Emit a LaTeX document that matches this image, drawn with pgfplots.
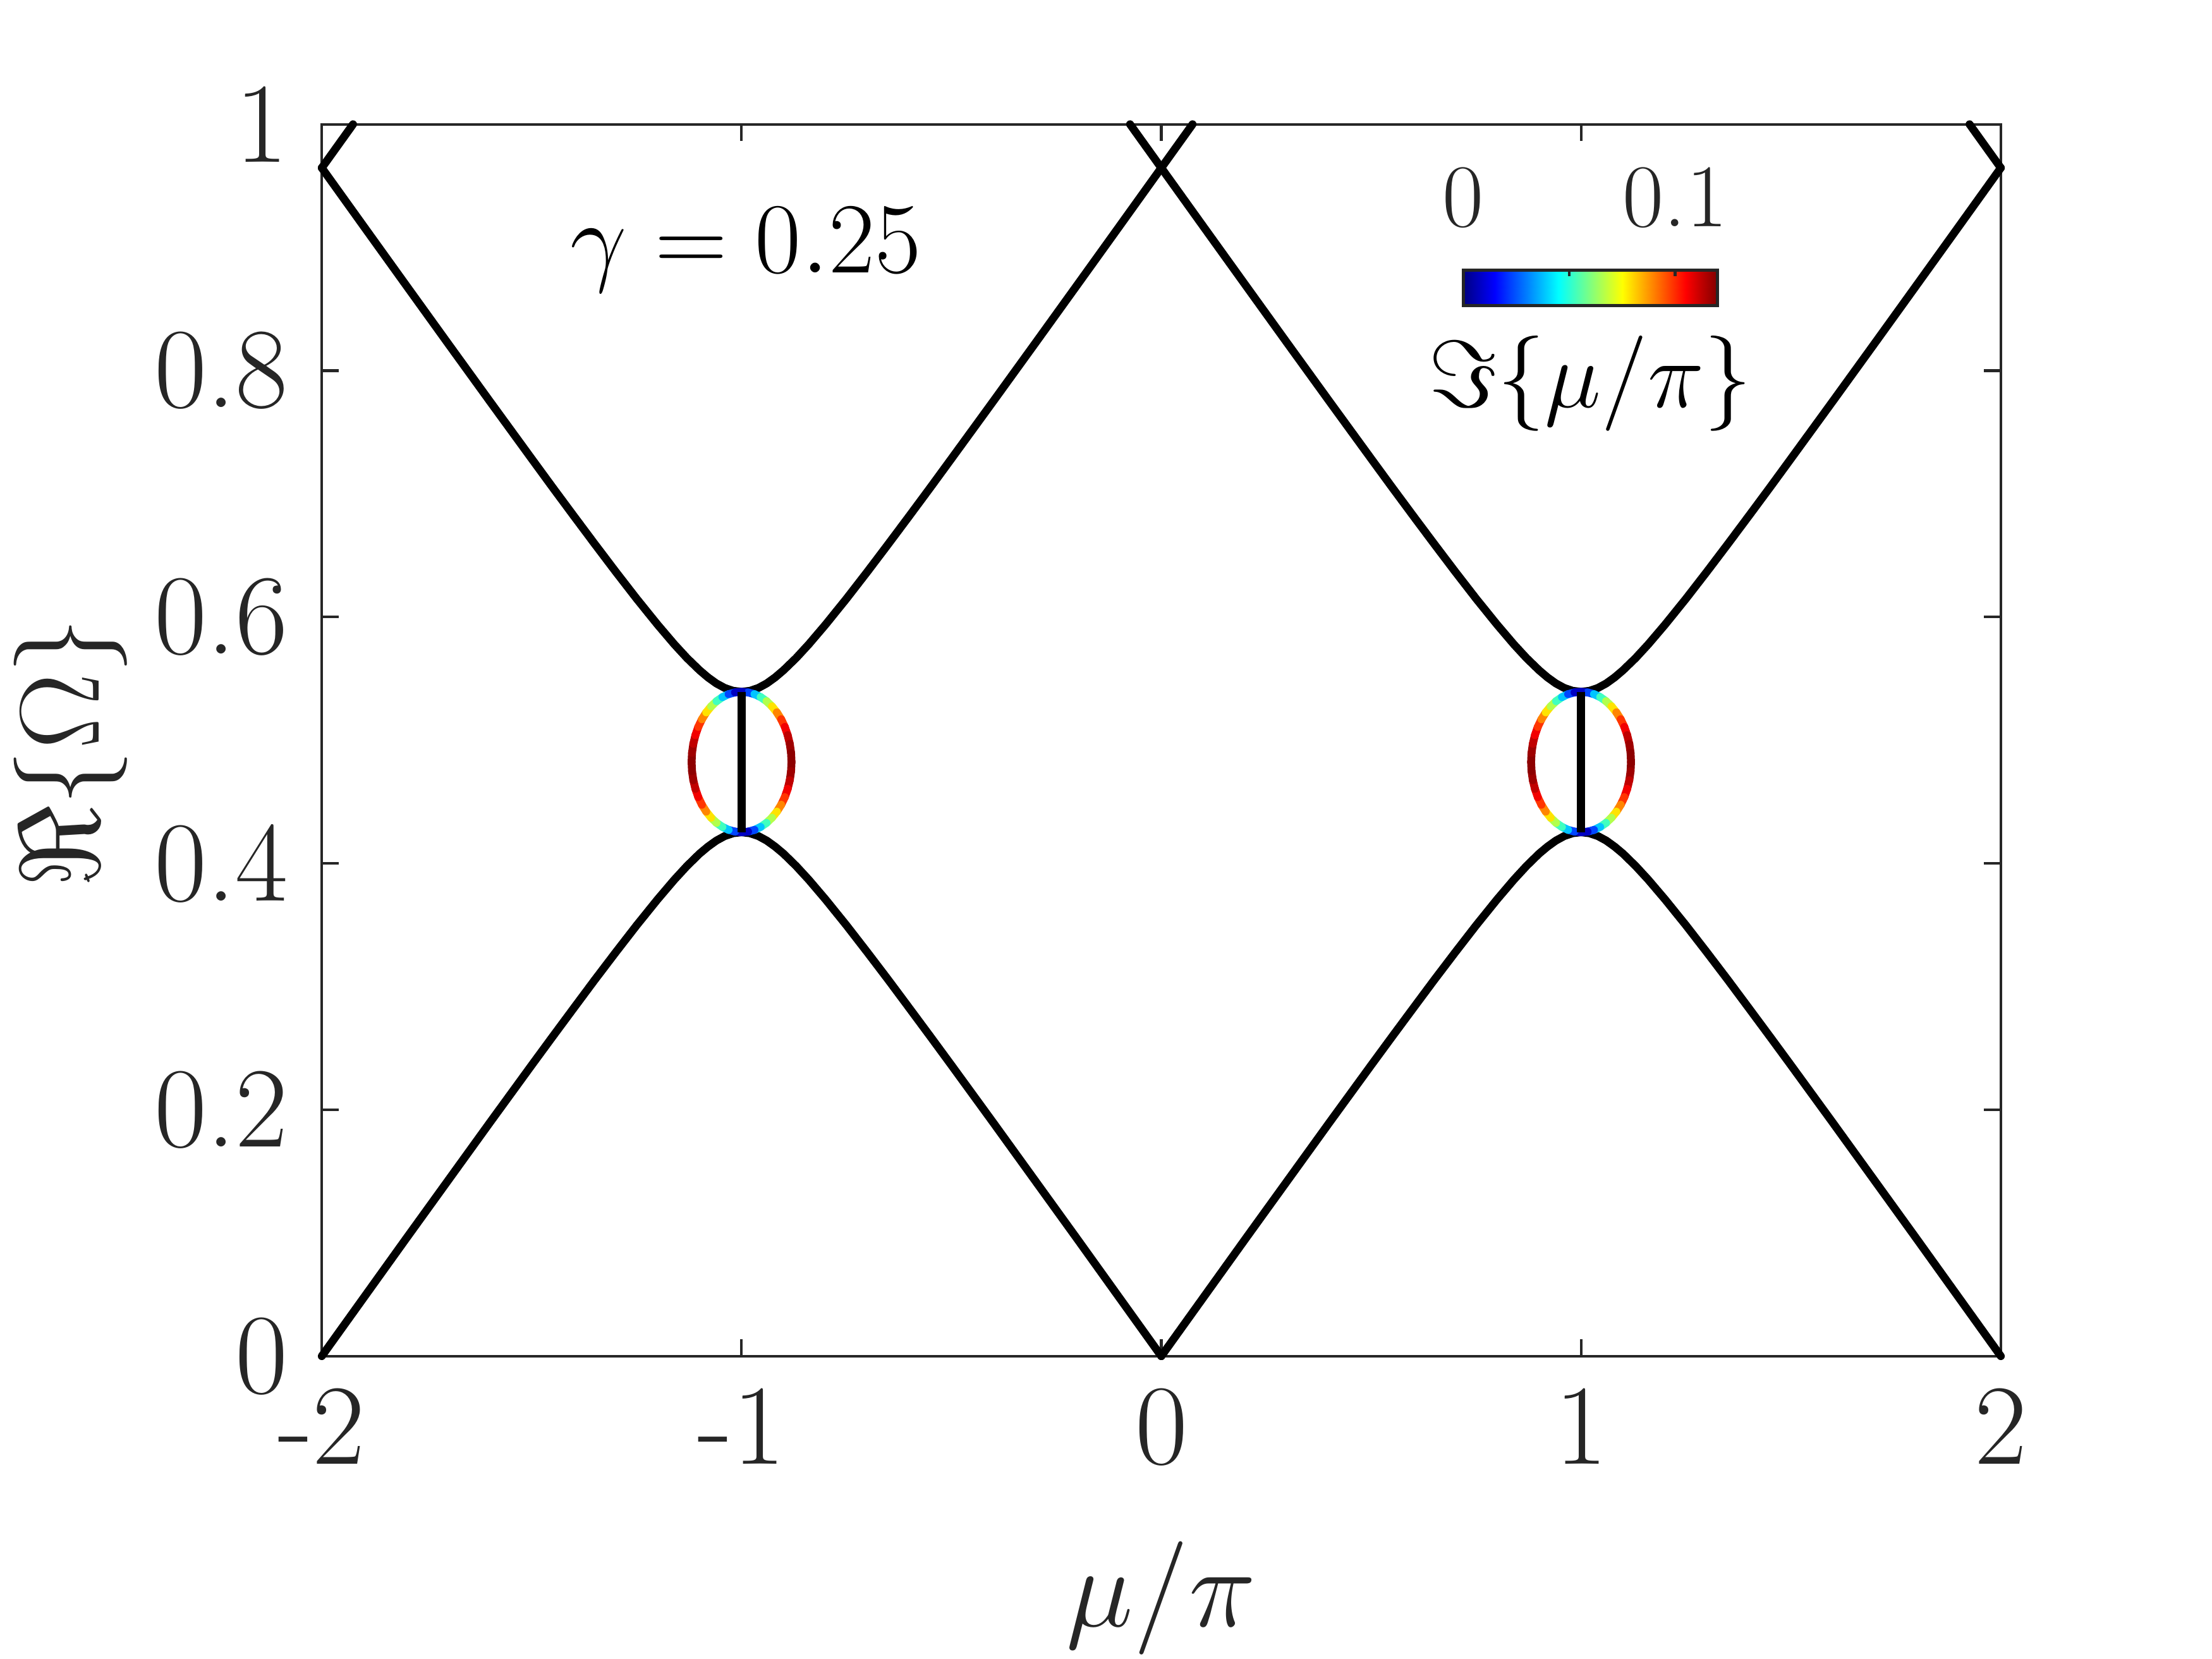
\RequirePackage{fix-cm}
\documentclass[border=0pt]{standalone}
\usepackage{pgfplots}
\pgfplotsset{compat=1.18}
\definecolor{axgray}{HTML}{262626}
\pgfplotsset{colormap={matlabjet}{rgb255(0cm)=(0,0,128) rgb255(1cm)=(0,0,255) rgb255(3cm)=(0,255,255) rgb255(5cm)=(255,255,0) rgb255(7cm)=(255,0,0) rgb255(8cm)=(128,0,0)}}

\begin{document}
\begin{tikzpicture}
\useasboundingbox (-61.1pt,-57.5pt) rectangle (358.9pt,257.5pt);
\begin{axis}[
  at={(0pt,0pt)}, anchor=south west,
  width=318.8pt, height=233.9pt, scale only axis,
  xmin=-2, xmax=2, ymin=0, ymax=1,
  clip=false,
  xtick={-2,-1,0,1,2}, xticklabels={-2,-1,0,1,2},
  ytick={0,0.2,0.4,0.6,0.8,1}, yticklabels={0,0.2,0.4,0.6,0.8,1},
  tick align=inside, tick pos=both, major tick length=3.2pt,
  axis line style={draw=axgray, line width=0.5pt},
  tick style={draw=axgray, line width=0.5pt},
  tick label style={font=\fontsize{21.7}{25}\selectfont, text=axgray},
  xticklabel shift=2.6pt,
  yticklabel shift=2.9pt,
  label style={font=\fontsize{21.5}{25}\selectfont, text=axgray},
  xlabel={$\mu/\pi$}, ylabel={$\Re\{\Omega\}$},
  xlabel style={at={(axis description cs:0.5,-0.1963)}, anchor=center},
  ylabel style={at={(axis description cs:-0.1496,0.49)}, anchor=center, inner sep=0pt},
  colormap name=matlabjet,
  point meta min=0, point meta max=0.12,
]
% lower band, gap at -1
\addplot[black, line width=1.5pt, line cap=round, line join=round] table {
x y
-2.0000 0.0000
-1.9000 0.0475
-1.8000 0.0950
-1.7000 0.1422
-1.6000 0.1894
-1.5000 0.2362
-1.4500 0.2594
-1.4000 0.2824
-1.3500 0.3053
-1.3000 0.3277
-1.2500 0.3497
-1.2000 0.3708
-1.1600 0.3868
-1.1300 0.3979
-1.1000 0.4079
-1.0800 0.4136
-1.0600 0.4185
-1.0400 0.4222
-1.0200 0.4245
-1.0000 0.4253
-0.9800 0.4245
-0.9600 0.4222
-0.9400 0.4185
-0.9200 0.4136
-0.9000 0.4079
-0.8700 0.3979
-0.8400 0.3868
-0.8000 0.3708
-0.7500 0.3497
-0.7000 0.3277
-0.6500 0.3053
-0.6000 0.2824
-0.5500 0.2594
-0.5000 0.2362
-0.4000 0.1894
-0.3000 0.1422
-0.2000 0.0950
-0.1000 0.0475
0.0000 0.0000
};
% lower band, gap at +1
\addplot[black, line width=1.5pt, line cap=round, line join=round] table {
x y
0.0000 0.0000
0.1000 0.0475
0.2000 0.0950
0.3000 0.1422
0.4000 0.1894
0.5000 0.2362
0.5500 0.2594
0.6000 0.2824
0.6500 0.3053
0.7000 0.3277
0.7500 0.3497
0.8000 0.3708
0.8400 0.3868
0.8700 0.3979
0.9000 0.4079
0.9200 0.4136
0.9400 0.4185
0.9600 0.4222
0.9800 0.4245
1.0000 0.4253
1.0200 0.4245
1.0400 0.4222
1.0600 0.4185
1.0800 0.4136
1.1000 0.4079
1.1300 0.3979
1.1600 0.3868
1.2000 0.3708
1.2500 0.3497
1.3000 0.3277
1.3500 0.3053
1.4000 0.2824
1.4500 0.2594
1.5000 0.2362
1.6000 0.1894
1.7000 0.1422
1.8000 0.0950
1.9000 0.0475
2.0000 0.0000
};
% upper band, gap at -1
\addplot[black, line width=1.5pt, line cap=round, line join=round] table {
x y
-2.0000 0.9646
-1.9000 0.9171
-1.8000 0.8697
-1.7000 0.8224
-1.6000 0.7753
-1.5000 0.7285
-1.4500 0.7052
-1.4000 0.6822
-1.3500 0.6594
-1.3000 0.6369
-1.2500 0.6149
-1.2000 0.5938
-1.1600 0.5778
-1.1300 0.5667
-1.1000 0.5568
-1.0800 0.5510
-1.0600 0.5461
-1.0400 0.5424
-1.0200 0.5401
-1.0000 0.5393
-0.9800 0.5401
-0.9600 0.5424
-0.9400 0.5461
-0.9200 0.5510
-0.9000 0.5568
-0.8700 0.5667
-0.8400 0.5778
-0.8000 0.5938
-0.7500 0.6149
-0.7000 0.6369
-0.6500 0.6594
-0.6000 0.6822
-0.5500 0.7052
-0.5000 0.7285
-0.4000 0.7753
-0.3000 0.8224
-0.2000 0.8697
-0.1000 0.9171
0.0000 0.9646
0.0400 0.9836
0.0745 1.0000
};
% upper band, gap at +1
\addplot[black, line width=1.5pt, line cap=round, line join=round] table {
x y
-0.0745 1.0000
-0.0400 0.9836
0.0000 0.9646
0.1000 0.9171
0.2000 0.8697
0.3000 0.8224
0.4000 0.7753
0.5000 0.7285
0.5500 0.7052
0.6000 0.6822
0.6500 0.6594
0.7000 0.6369
0.7500 0.6149
0.8000 0.5938
0.8400 0.5778
0.8700 0.5667
0.9000 0.5568
0.9200 0.5510
0.9400 0.5461
0.9600 0.5424
0.9800 0.5401
1.0000 0.5393
1.0200 0.5401
1.0400 0.5424
1.0600 0.5461
1.0800 0.5510
1.1000 0.5568
1.1300 0.5667
1.1600 0.5778
1.2000 0.5938
1.2500 0.6149
1.3000 0.6369
1.3500 0.6594
1.4000 0.6822
1.4500 0.7052
1.5000 0.7285
1.6000 0.7753
1.7000 0.8224
1.8000 0.8697
1.9000 0.9171
2.0000 0.9646
};
% upper band pieces from gaps at -3 and +3
\addplot[black, line width=1.5pt, line cap=round, line join=round] table {
x y
-2.0000 0.9646
-1.9600 0.9836
-1.9255 1.0000
};
\addplot[black, line width=1.5pt, line cap=round, line join=round] table {
x y
1.9255 1.0000
1.9600 0.9836
2.0000 0.9646
};
% complex-mu loops, gap at -1
\addplot[mesh, line width=1.5pt, line cap=round, point meta=\thisrow{c}] table {
x y c
-1.0000 0.5393 0.0000
-0.9845 0.5388 0.0155
-0.9692 0.5374 0.0308
-0.9545 0.5350 0.0455
-0.9405 0.5317 0.0595
-0.9276 0.5275 0.0724
-0.9159 0.5226 0.0842
-0.9056 0.5170 0.0944
-0.8969 0.5108 0.1031
-0.8901 0.5041 0.1099
-0.8851 0.4971 0.1149
-0.8820 0.4897 0.1180
-0.8810 0.4823 0.1190
-0.8820 0.4749 0.1180
-0.8851 0.4675 0.1149
-0.8901 0.4605 0.1099
-0.8969 0.4538 0.1031
-0.9056 0.4476 0.0944
-0.9159 0.4420 0.0842
-0.9276 0.4371 0.0724
-0.9405 0.4329 0.0595
-0.9545 0.4296 0.0455
-0.9692 0.4272 0.0308
-0.9845 0.4258 0.0155
-1.0000 0.4253 0.0000
-1.0155 0.4258 0.0155
-1.0308 0.4272 0.0308
-1.0455 0.4296 0.0455
-1.0595 0.4329 0.0595
-1.0724 0.4371 0.0724
-1.0841 0.4420 0.0842
-1.0944 0.4476 0.0944
-1.1031 0.4538 0.1031
-1.1099 0.4605 0.1099
-1.1149 0.4675 0.1149
-1.1180 0.4749 0.1180
-1.1190 0.4823 0.1190
-1.1180 0.4897 0.1180
-1.1149 0.4971 0.1149
-1.1099 0.5041 0.1099
-1.1031 0.5108 0.1031
-1.0944 0.5170 0.0944
-1.0841 0.5226 0.0842
-1.0724 0.5275 0.0724
-1.0595 0.5317 0.0595
-1.0455 0.5350 0.0455
-1.0308 0.5374 0.0308
-1.0155 0.5388 0.0155
-1.0000 0.5393 0.0000
};
% complex-mu loops, gap at +1
\addplot[mesh, line width=1.5pt, line cap=round, point meta=\thisrow{c}] table {
x y c
1.0000 0.5393 0.0000
1.0155 0.5388 0.0155
1.0308 0.5374 0.0308
1.0455 0.5350 0.0455
1.0595 0.5317 0.0595
1.0724 0.5275 0.0724
1.0841 0.5226 0.0842
1.0944 0.5170 0.0944
1.1031 0.5108 0.1031
1.1099 0.5041 0.1099
1.1149 0.4971 0.1149
1.1180 0.4897 0.1180
1.1190 0.4823 0.1190
1.1180 0.4749 0.1180
1.1149 0.4675 0.1149
1.1099 0.4605 0.1099
1.1031 0.4538 0.1031
1.0944 0.4476 0.0944
1.0841 0.4420 0.0842
1.0724 0.4371 0.0724
1.0595 0.4329 0.0595
1.0455 0.4296 0.0455
1.0308 0.4272 0.0308
1.0155 0.4258 0.0155
1.0000 0.4253 0.0000
0.9845 0.4258 0.0155
0.9692 0.4272 0.0308
0.9545 0.4296 0.0455
0.9405 0.4329 0.0595
0.9276 0.4371 0.0724
0.9159 0.4420 0.0842
0.9056 0.4476 0.0944
0.8969 0.4538 0.1031
0.8901 0.4605 0.1099
0.8851 0.4675 0.1149
0.8820 0.4749 0.1180
0.8810 0.4823 0.1190
0.8820 0.4897 0.1180
0.8851 0.4971 0.1149
0.8901 0.5041 0.1099
0.8969 0.5108 0.1031
0.9056 0.5170 0.0944
0.9159 0.5226 0.0842
0.9276 0.5275 0.0724
0.9405 0.5317 0.0595
0.9545 0.5350 0.0455
0.9692 0.5374 0.0308
0.9845 0.5388 0.0155
1.0000 0.5393 0.0000
};
% real part of mu inside the gaps
\addplot[black, line width=1.6pt] table {
x y
-1.0000 0.4253
-1.0000 0.5393
};
\addplot[black, line width=1.6pt] table {
x y
1.0000 0.4253
1.0000 0.5393
};
\node[anchor=base, font=\fontsize{19.1}{22}\selectfont] at (axis cs:-0.99,0.8796) {$\gamma = 0.25$};
\end{axis}

% horizontal colorbar
\begin{axis}[
  at={(216.7pt,199.5pt)}, anchor=south west,
  width=48.3pt, height=6.7pt, scale only axis,
  xmin=0, xmax=0.12, ymin=0, ymax=1,
  enlargelimits=false,
  ytick=\empty,
  xtick={0,0.05,0.1}, xticklabels={0,,0.1},
  xtick pos=right, xticklabel pos=right,
  tick align=inside, major tick length=1.2pt,
  axis line style={draw=axgray, line width=0.6pt},
  tick style={draw=axgray, line width=0.5pt},
  xticklabel style={font=\fontsize{17}{20}\selectfont, text=axgray},
  xticklabel shift=4.5pt,
  xlabel={$\Im\{\mu/\pi\}$},
  xlabel style={at={(axis description cs:0.5,0)}, anchor=north, inner sep=0pt, yshift=-5.6pt, font=\fontsize{18.1}{22}\selectfont},
  axis on top,
  colormap name=matlabjet,
  point meta min=0, point meta max=0.12,
]
\addplot[surf, shader=interp, point meta=x, mesh/rows=2] coordinates {
(0,0) (0.0075,0) (0.015,0) (0.0225,0) (0.03,0) (0.0375,0) (0.045,0) (0.0525,0) (0.06,0) (0.0675,0) (0.075,0) (0.0825,0) (0.09,0) (0.0975,0) (0.105,0) (0.1125,0) (0.12,0)
(0,1) (0.0075,1) (0.015,1) (0.0225,1) (0.03,1) (0.0375,1) (0.045,1) (0.0525,1) (0.06,1) (0.0675,1) (0.075,1) (0.0825,1) (0.09,1) (0.0975,1) (0.105,1) (0.1125,1) (0.12,1)
};
\end{axis}
\end{tikzpicture}
\end{document}
